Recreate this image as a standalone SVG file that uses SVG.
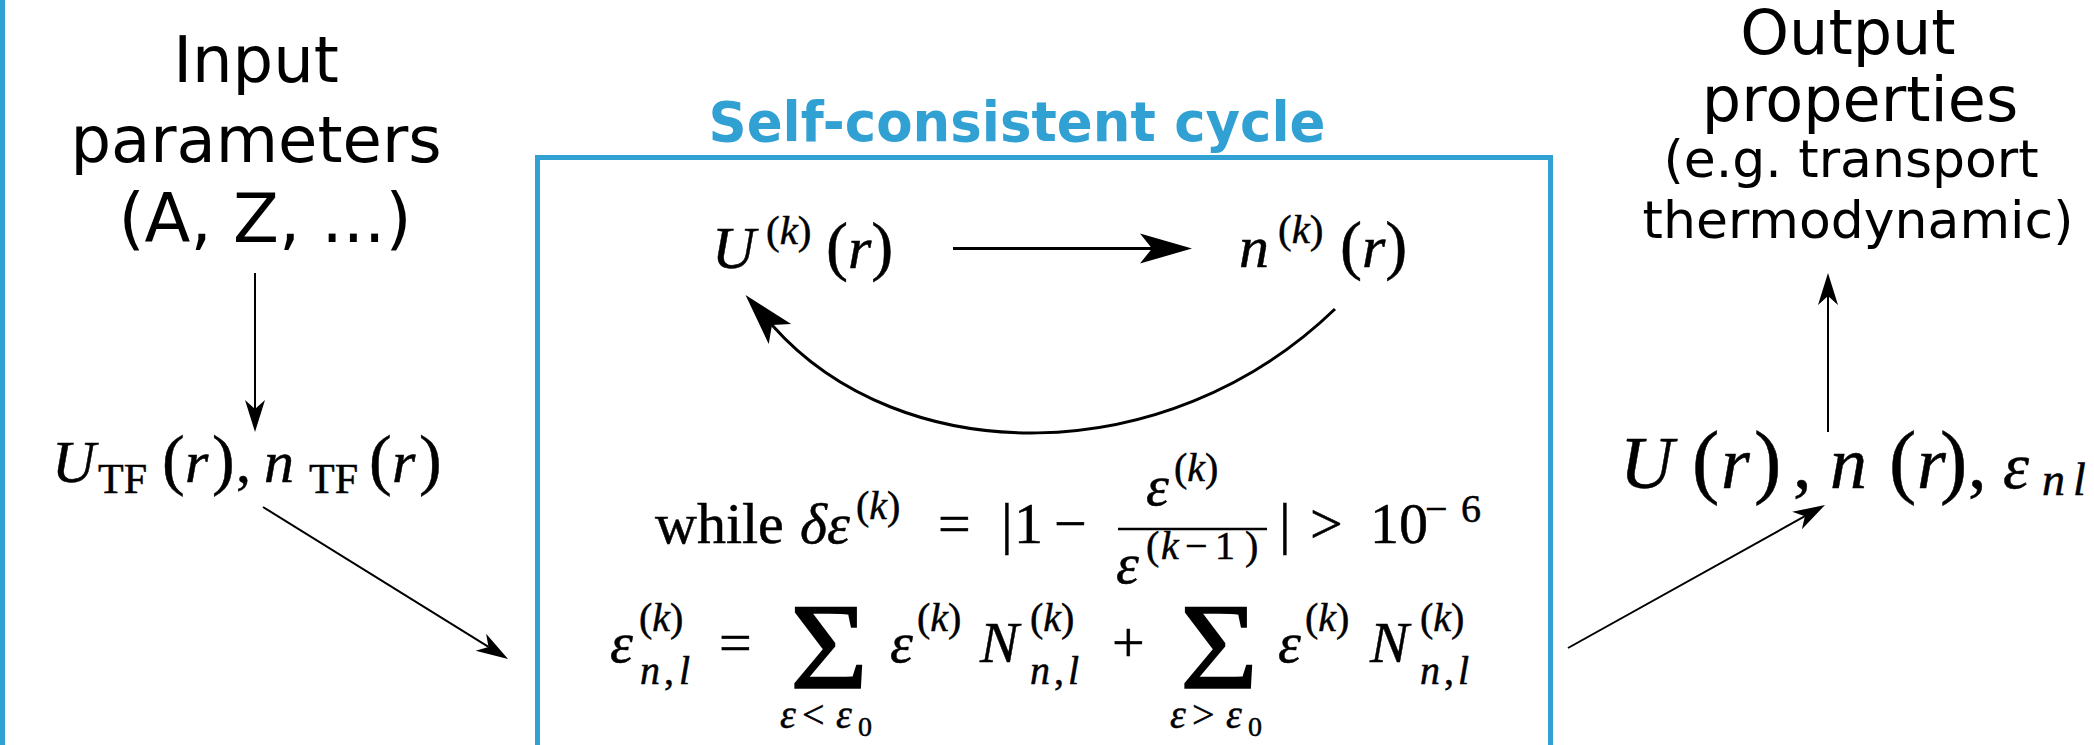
<svg xmlns="http://www.w3.org/2000/svg" width="2094" height="745" viewBox="0 0 2094 745">
<style>
  .lbl { font-family: "DejaVu Sans", "Liberation Sans", sans-serif; fill: #000; }
  .title { font-family: "DejaVu Sans", "Liberation Sans", sans-serif; font-weight: bold; fill: #31a0d2; }
  .mi { font-family: "Liberation Serif", "DejaVu Serif", serif; font-style: italic; fill: #000; }
  .mu { font-family: "Liberation Serif", "DejaVu Serif", serif; font-style: normal; fill: #000; stroke: #000; stroke-width: 0.5; }
  .sig { font-family: "Liberation Serif", "DejaVu Serif", serif; fill: #000; stroke: #000; stroke-width: 1.6; }
  .it { font-style: italic; }
  .blue { fill: none; stroke: #31a0d2; stroke-width: 5; }
  .thin { fill: none; stroke: #000; stroke-width: 2; }
  .thick { fill: none; stroke: #000; stroke-width: 3; }
</style>
<defs>
  <marker id="bigHead" markerUnits="userSpaceOnUse" viewBox="0 -16 54 32" refX="12" refY="0" markerWidth="54" markerHeight="32" orient="auto" overflow="visible">
    <path d="M0,-15 L52,0 L0,15 L12,0 Z" fill="#000"/>
  </marker>
  <marker id="smallHead" markerUnits="userSpaceOnUse" viewBox="0 -12 34 24" refX="9" refY="0" markerWidth="34" markerHeight="24" orient="auto" overflow="visible">
    <path d="M0,-10 L32,0 L0,10 L9,0 Z" fill="#000"/>
  </marker>
</defs>
<rect width="2094" height="745" fill="#fff"/>

<!-- left border line -->
<line x1="2.5" y1="0" x2="2.5" y2="745" class="blue"/>

<g id="input">
  <text class="lbl" x="256" y="82" font-size="64" text-anchor="middle">Input</text>
  <text class="lbl" x="256" y="162" font-size="64" text-anchor="middle">parameters</text>
  <text class="lbl" x="265" y="242" font-size="67" text-anchor="middle">(A, Z, ...)</text>
</g>

<g id="utf">
  <text class="mu" y="482" font-size="60"><tspan class="it" x="52">U</tspan><tspan x="98" y="493" font-size="42">TF</tspan><tspan x="162" y="482" font-size="68">(</tspan><tspan class="it" x="185">r</tspan><tspan x="212" font-size="68">)</tspan><tspan x="236">,</tspan><tspan class="it" x="264">n</tspan><tspan x="309" y="493" font-size="42">TF</tspan><tspan x="369" y="482" font-size="68">(</tspan><tspan class="it" x="392">r</tspan><tspan x="419" font-size="68">)</tspan></text>
</g>

<g id="cycle-box">
  <path d="M537.5,750 V157.5 H1550.5 V750" class="blue"/>
  <text class="title" x="1017" y="141" font-size="55" text-anchor="middle" textLength="617" lengthAdjust="spacingAndGlyphs">Self-consistent cycle</text>
</g>

<g id="u-k">
  <text class="mu" y="268" font-size="60"><tspan class="it" x="712">U</tspan><tspan x="766" y="244" font-size="41">(<tspan class="it">k</tspan>)</tspan><tspan x="826" y="268" font-size="66">(<tspan class="it" font-size="60">r</tspan>)</tspan></text>
</g>

<g id="n-k">
  <text class="mu" y="267" font-size="60"><tspan class="it" x="1239">n</tspan><tspan x="1278" y="243" font-size="41">(<tspan class="it">k</tspan>)</tspan><tspan x="1340" y="267" font-size="66">(<tspan class="it" font-size="60">r</tspan>)</tspan></text>
</g>

<g id="while-eq">
  <text class="mu" y="543" font-size="58"><tspan x="655">while</tspan><tspan class="it" x="800">δε</tspan><tspan x="856" y="519" font-size="40">(<tspan class="it">k</tspan>)</tspan><tspan x="938" y="543">=</tspan><tspan x="1001">|</tspan><tspan x="1014">1</tspan><tspan x="1054">−</tspan></text>
  <line x1="1118" y1="529" x2="1267" y2="529" stroke="#000" stroke-width="2.4"/>
  <text class="mu" y="505" font-size="58"><tspan class="it" x="1146">ε</tspan><tspan x="1174" y="481" font-size="40">(<tspan class="it">k</tspan>)</tspan></text>
  <text class="mu" y="583" font-size="58"><tspan class="it" x="1116">ε</tspan><tspan x="1146" y="559" font-size="40">(</tspan><tspan class="it" x="1161" font-size="40">k</tspan><tspan x="1185" font-size="40">−</tspan><tspan x="1215" font-size="40">1</tspan><tspan x="1245" font-size="40">)</tspan></text>
  <text class="mu" y="543" font-size="58"><tspan x="1279">|</tspan><tspan x="1310">&gt;</tspan><tspan x="1370">10</tspan><tspan x="1425" y="522" font-size="40">−</tspan><tspan x="1461" font-size="40">6</tspan></text>
</g>

<g id="sum-eq">
  <text class="mu" y="662" font-size="58"><tspan class="it" x="610">ε</tspan><tspan x="639" y="631" font-size="40">(<tspan class="it">k</tspan>)</tspan><tspan class="it" x="640" y="684" font-size="40">n</tspan><tspan x="664" font-size="40">,</tspan><tspan class="it" x="679" font-size="40">l</tspan><tspan x="719" y="662">=</tspan></text>
  <text class="sig" x="790" y="688" font-size="122" textLength="78" lengthAdjust="spacingAndGlyphs">Σ</text>
  <text class="mu" y="728" font-size="40"><tspan class="it" x="780">ε</tspan><tspan x="802">&lt;</tspan><tspan class="it" x="836">ε</tspan><tspan x="858" y="736" font-size="28">0</tspan></text>
  <text class="mu" y="662" font-size="58"><tspan class="it" x="890">ε</tspan><tspan x="917" y="631" font-size="40">(<tspan class="it">k</tspan>)</tspan><tspan class="it" x="980" y="662">N</tspan><tspan x="1030" y="631" font-size="40">(<tspan class="it">k</tspan>)</tspan><tspan class="it" x="1030" y="684" font-size="40">n</tspan><tspan x="1054" font-size="40">,</tspan><tspan class="it" x="1068" font-size="40">l</tspan><tspan x="1112" y="662">+</tspan></text>
  <text class="sig" x="1180" y="688" font-size="122" textLength="78" lengthAdjust="spacingAndGlyphs">Σ</text>
  <text class="mu" y="728" font-size="40"><tspan class="it" x="1170">ε</tspan><tspan x="1192">&gt;</tspan><tspan class="it" x="1226">ε</tspan><tspan x="1248" y="736" font-size="28">0</tspan></text>
  <text class="mu" y="662" font-size="58"><tspan class="it" x="1278">ε</tspan><tspan x="1305" y="631" font-size="40">(<tspan class="it">k</tspan>)</tspan><tspan class="it" x="1370" y="662">N</tspan><tspan x="1420" y="631" font-size="40">(<tspan class="it">k</tspan>)</tspan><tspan class="it" x="1420" y="684" font-size="40">n</tspan><tspan x="1444" font-size="40">,</tspan><tspan class="it" x="1458" font-size="40">l</tspan></text>
</g>

<g id="output-formula">
  <text class="mu" y="488" font-size="74"><tspan class="it" x="1620">U</tspan><tspan x="1692" font-size="82">(</tspan><tspan class="it" x="1721">r</tspan><tspan x="1754" font-size="82">)</tspan><tspan x="1793">,</tspan><tspan class="it" x="1830">n</tspan><tspan x="1889" font-size="82">(</tspan><tspan class="it" x="1917">r</tspan><tspan x="1940" font-size="82">)</tspan><tspan x="1968">,</tspan><tspan class="it" x="2003" font-size="66">ε</tspan><tspan class="it" x="2042" y="495" font-size="46">n</tspan><tspan class="it" x="2073" font-size="46">l</tspan></text>
</g>

<g id="output-label">
  <text class="lbl" x="1848" y="54" font-size="62" text-anchor="middle">Output</text>
  <text class="lbl" x="1860" y="121" font-size="62" text-anchor="middle">properties</text>
  <text class="lbl" x="1851" y="177" font-size="52" text-anchor="middle">(e.g. transport</text>
  <text class="lbl" x="1858" y="238" font-size="52" text-anchor="middle">thermodynamic)</text>
</g>

<g id="connectors">
  <path d="M255,273 V409" class="thin" marker-end="url(#smallHead)"/>
  <path d="M263,507 L488.5,646.9" class="thin" marker-end="url(#smallHead)"/>
  <path d="M953,248.5 H1152" class="thick" marker-end="url(#bigHead)"/>
  <path d="M1335,309 C1165,473 900,470 772,325" class="thick" marker-end="url(#bigHead)"/>
  <path d="M1568,648 L1804.9,516.2" class="thin" marker-end="url(#smallHead)"/>
  <path d="M1828,432 V296" class="thin" marker-end="url(#smallHead)"/>
</g>
</svg>
